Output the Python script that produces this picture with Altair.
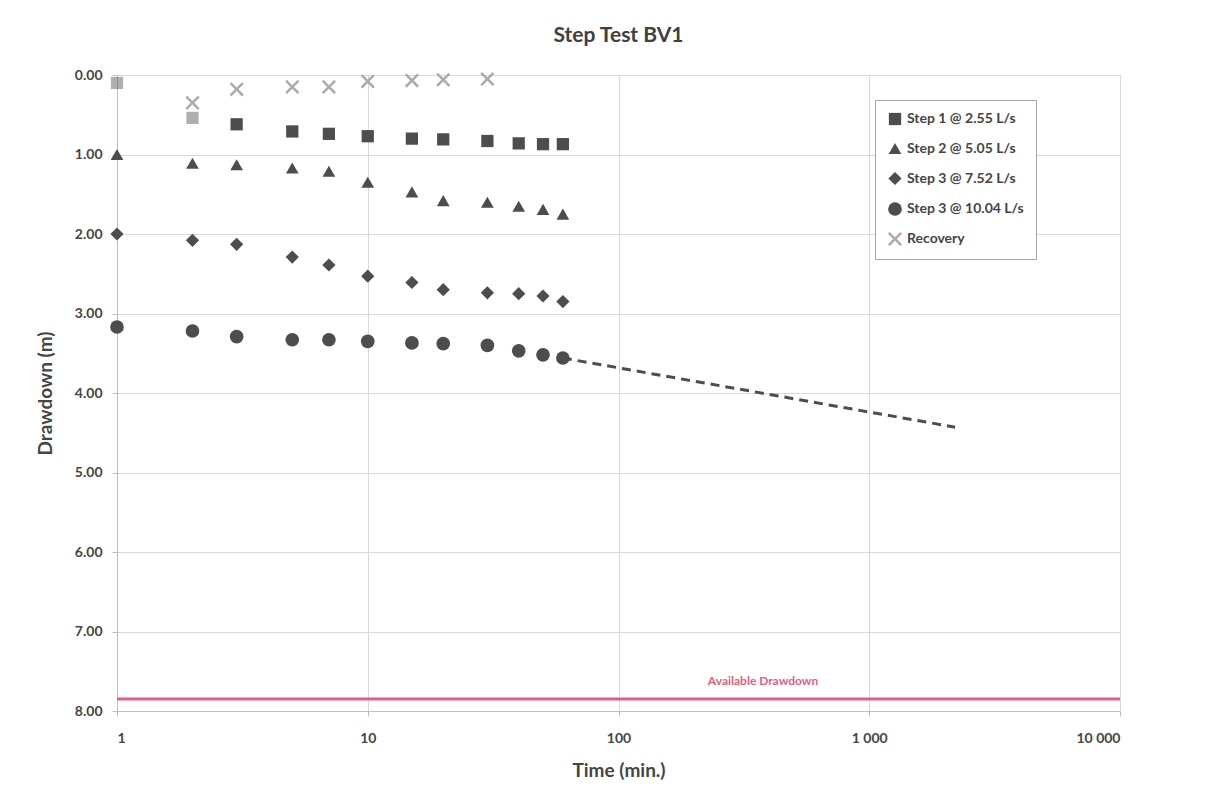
import altair as alt
import pandas as pd

times = [1, 2, 3, 5, 7, 10, 15, 20, 30, 40, 50, 60]
step1 = [0.10, 0.54, 0.62, 0.71, 0.74, 0.77, 0.80, 0.81, 0.83, 0.86, 0.87, 0.87]
step2 = [1.00, 1.11, 1.13, 1.17, 1.21, 1.35, 1.47, 1.58, 1.60, 1.65, 1.69, 1.75]
step3 = [2.00, 2.08, 2.13, 2.29, 2.39, 2.53, 2.61, 2.70, 2.74, 2.75, 2.78, 2.85]
step4 = [3.17, 3.22, 3.29, 3.33, 3.33, 3.35, 3.37, 3.38, 3.40, 3.47, 3.52, 3.56]

rec_times = [2, 3, 5, 7, 10, 15, 20, 30]
recovery = [0.35, 0.18, 0.15, 0.15, 0.08, 0.07, 0.06, 0.05]

trend_times = [60, 2200]
trend_vals = [3.56, 4.43]

available_drawdown = 7.85
avail_label_time = 377
avail_label_depth = 7.62

names = ["Step 1 @ 2.55 L/s", "Step 2 @ 5.05 L/s", "Step 3 @ 7.52 L/s",
         "Step 3 @ 10.04 L/s", "Recovery"]

rows = []
for name, vals in zip(names[:4], [step1, step2, step3, step4]):
    for t, v in zip(times, vals):
        rows.append({"time": t, "drawdown": v, "series": name})
for t, v in zip(rec_times, recovery):
    rows.append({"time": t, "drawdown": v, "series": names[4]})
pts = pd.DataFrame(rows)

trend = pd.DataFrame({"time": trend_times, "drawdown": trend_vals})
avail = pd.DataFrame({"drawdown": [available_drawdown]})
avail_lbl = pd.DataFrame({"time": [avail_label_time], "drawdown": [avail_label_depth],
                          "text": ["Available Drawdown"]})

FONT = "Lato"
TXT = "#454545"
xpath = "M-0.75,-1L0,-0.25L0.75,-1L1,-0.75L0.25,0L1,0.75L0.75,1L0,0.25L-0.75,1L-1,0.75L-0.25,0L-1,-0.75Z"

xscale = alt.Scale(type="log", domain=[1, 10000])
yscale = alt.Scale(domain=[0, 8], reverse=True, nice=False)

xaxis = alt.Axis(title="Time (min.)", values=[1, 10, 100, 1000, 10000],
                 labelExpr="replace(format(datum.value, ','), ',', ' ')",
                 grid=True, gridColor="#d9d9d9", domainColor="#bfbfbf",
                 tickColor="#bfbfbf", tickSize=5, labelPadding=15,
                 labelFont=FONT, labelFontSize=14, labelFontWeight="bold", labelColor=TXT,
                 titleFont=FONT, titleFontSize=19, titleFontWeight="bold", titleColor=TXT,
                 titlePadding=16)
yaxis = alt.Axis(title="Drawdown (m)", values=[0, 1, 2, 3, 4, 5, 6, 7, 8], format=".2f",
                 grid=True, gridColor="#d9d9d9", domainColor="#bfbfbf",
                 tickColor="#bfbfbf", tickSize=5, labelPadding=10,
                 labelFont=FONT, labelFontSize=14, labelFontWeight="bold", labelColor=TXT,
                 titleFont=FONT, titleFontSize=19, titleFontWeight="bold", titleColor=TXT,
                 titlePadding=19)

points = alt.Chart(pts).mark_point(filled=True, opacity=1).encode(
    x=alt.X("time:Q", scale=xscale, axis=xaxis),
    y=alt.Y("drawdown:Q", scale=yscale, axis=yaxis),
    color=alt.Color("series:N", scale=alt.Scale(domain=names,
                    range=["#4d4d4d", "#4d4d4d", "#4d4d4d", "#4d4d4d", "#ababab"]),
                    legend=alt.Legend(title=None, orient="none", legendX=758, legendY=25,
                                      fillColor="white", strokeColor="#a6a6a6",
                                      padding=12, rowPadding=15, symbolSize=80,
                                      labelFont=FONT, labelFontSize=14, labelColor=TXT,
                                      labelFontWeight="bold", labelLimit=300)),
    shape=alt.Shape("series:N", scale=alt.Scale(domain=names,
                    range=["square", "triangle-up", "diamond", "circle", xpath])),
    size=alt.Size("series:N", scale=alt.Scale(domain=names, range=[150, 200, 190, 190, 130]),
                  legend=None),
    opacity=alt.condition("datum.series == 'Step 1 @ 2.55 L/s' && datum.time < 3",
                          alt.value(0.45), alt.value(1)),
)

trend_line = alt.Chart(trend).mark_line(color="#4d4d4d", strokeDash=[9, 6], strokeWidth=3).encode(
    x=alt.X("time:Q", scale=xscale), y=alt.Y("drawdown:Q", scale=yscale))

avail_rule = alt.Chart(avail).mark_rule(color="#e0607e", strokeWidth=3).encode(
    y=alt.Y("drawdown:Q", scale=yscale))

avail_text = alt.Chart(avail_lbl).mark_text(color="#e0607e", font=FONT, fontSize=12,
                                            fontWeight="bold").encode(
    x=alt.X("time:Q", scale=xscale), y=alt.Y("drawdown:Q", scale=yscale), text="text:N")

chart = alt.layer(trend_line, avail_rule, points, avail_text).properties(
    width=1003, height=636,
    title=alt.TitleParams("Step Test BV1", font=FONT, fontSize=21, fontWeight="bold",
                          color="#404040", anchor="middle", offset=22),
    autosize=alt.AutoSizeParams(type="none"),
    padding={"left": 117, "top": 75, "right": 95, "bottom": 86},
).configure_view(stroke="#bfbfbf").configure(background="white")

chart.save("out.html", embed_options={"renderer": "svg", "actions": False})
